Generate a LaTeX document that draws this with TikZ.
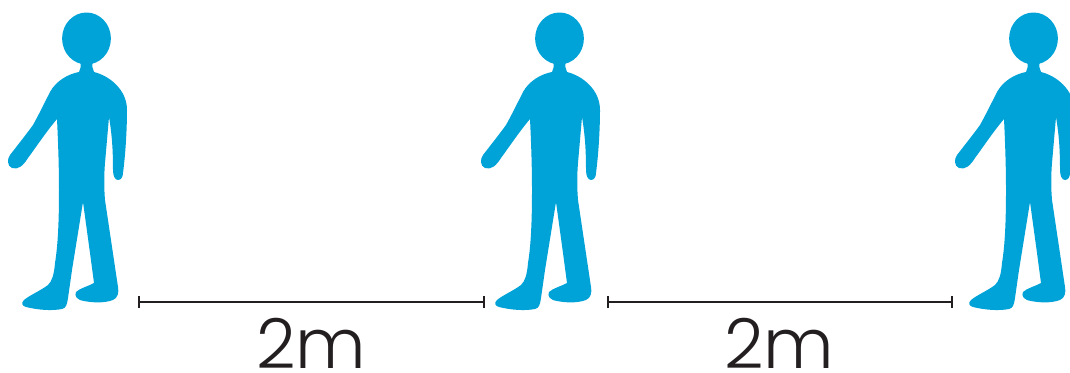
\documentclass[tikz,border=0pt]{standalone}
\usetikzlibrary{arrows.meta}
\usepackage{fontspec}
\setmainfont{Poppins Light}
\definecolor{personblue}{HTML}{00A3D8}
\definecolor{inkdark}{HTML}{231F20}
\tikzset{
  x=1pt,y=-1pt,
  dimline/.style={draw=inkdark,line width=1.6pt,{Bar[width=12pt,length=1.6pt]}-{Bar[width=12pt,length=1.6pt]}},
  dimlabel/.style={text=inkdark,font=\fontsize{69}{69}\selectfont,inner sep=0pt,anchor=base},
  person/.pic={
    \fill[personblue] (86.5,38.5) ellipse[x radius=24.4,y radius=26];
    \fill[personblue] (80,60) .. controls (81,66) and (81,69) .. (79,72)
      .. controls (68,74) and (56,81) .. (50,92)
      .. controls (44,104) and (38,116) .. (33,125)
      .. controls (28,132) and (17,146) .. (10,155)
      .. controls (7,159) and (7,166) .. (12,168)
      .. controls (18,170) and (23,166) .. (28,158)
      .. controls (34,150) and (46,132) .. (57,119)
      .. controls (58,140) and (59,165) .. (59,190)
      .. controls (59,220) and (58,245) .. (55,263)
      .. controls (54,275) and (52,281) .. (48,285)
      .. controls (40,291) and (30,295) .. (24,300)
      .. controls (21,303) and (22,306) .. (26,307)
      .. controls (38,310) and (52,311) .. (62,309)
      .. controls (66,308) and (67,305) .. (68,298)
      -- (72,270) -- (83,202) -- (90,253)
      -- (94,283)
      .. controls (89,286) and (80,288) .. (76,292)
      .. controls (74,296) and (77,300) .. (84,301)
      .. controls (94,303) and (105,303) .. (113,300)
      .. controls (118,298) and (119,292) .. (118,287)
      -- (105,200)
      .. controls (104,188) and (104,175) .. (105,163)
      -- (109,117)
      .. controls (112,135) and (113,150) .. (113,170)
      .. controls (113,176) and (115,180) .. (118,180)
      .. controls (121,180) and (123,177) .. (123,173)
      .. controls (126,150) and (127,125) .. (127,110)
      .. controls (127,90) and (110,76) .. (94,72)
      .. controls (92,69) and (92,66) .. (93,60) -- cycle;
  }
}
\begin{document}
\begin{tikzpicture}
\useasboundingbox (0,0) rectangle (1070,372);
\pic at (0,0) {person};
\pic at (473,0) {person};
\pic at (947,0) {person};
\coordinate (a1) at (138,302);
\coordinate (a2) at (484.5,302);
\coordinate (b1) at (607,302);
\coordinate (b2) at (953,302);
\draw[dimline] (a1) -- (a2);
\draw[dimline] (b1) -- (b2);
\node[dimlabel] (la) at (311,368) {2m};
\node[dimlabel] (lb) at (779,368) {2m};
\end{tikzpicture}
\end{document}
